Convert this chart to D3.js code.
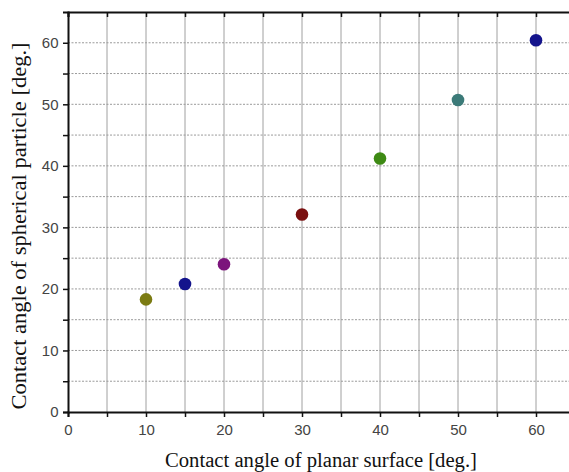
<!DOCTYPE html>
<html>
<head>
<meta charset="utf-8">
<script src="https://cdn.jsdelivr.net/npm/d3@7"></script>
<style>
  body { margin: 0; background: #fff; }
  svg { display: block; }
  .tick-label { font-family: "Liberation Sans", Arial, sans-serif; font-size: 15px; fill: #444; }
  .axis-title { font-family: "Liberation Serif", "Times New Roman", serif; font-size: 20px; fill: #111; }
</style>
</head>
<body>
<div id="chart"></div>
<script>
// data
const planarAngle = [10, 15, 20, 30, 40, 50, 60];
const particleAngle = [18.3, 20.8, 24.0, 32.1, 41.2, 50.7, 60.4];
const pointColors = ["#7b7b12", "#14148c", "#7c147c", "#7a1010", "#3e8a14", "#3b7a78", "#14148c"];
const xTicks = [0, 10, 20, 30, 40, 50, 60];
const yTicks = [0, 10, 20, 30, 40, 50, 60];
const minorStep = 5;

const width = 569, height = 472;
const margin = {top: 12, left: 68, bottom: 60};

const svg = d3.select("#chart").append("svg")
    .attr("width", width)
    .attr("height", height);

// x runs past the right edge, the frame is cut off like in the picture
let xScale = d3.scaleLinear().domain([0, 65]).range([margin.left, margin.left + 65 * 7.8]);
let yScale = d3.scaleLinear().domain([0, 65]).range([height - margin.bottom, margin.top]);

let minorX = d3.range(0, 66, minorStep);
let minorY = d3.range(0, 66, minorStep);

// grid
let grid = svg.append("g");
grid.selectAll(".vgrid")
    .data(minorX.filter(d => d > 0))
    .enter()
    .append("line")
    .attr("x1", d => xScale(d)).attr("x2", d => xScale(d))
    .attr("y1", yScale(0)).attr("y2", yScale(65))
    .attr("stroke", "#a0a0a0")
    .attr("stroke-width", 1);

grid.selectAll(".hgrid")
    .data(minorY.filter(d => d > 0 && d < 65))
    .enter()
    .append("line")
    .attr("x1", xScale(0)).attr("x2", width)
    .attr("y1", d => yScale(d)).attr("y2", d => yScale(d))
    .attr("stroke", "#9a9a9a")
    .attr("stroke-width", 1)
    .attr("stroke-dasharray", "2,1.5");

// bottom axis
let xAxis = d3.axisBottom(xScale)
    .tickValues(minorX)
    .tickSize(5)
    .tickFormat(d => xTicks.includes(d) ? d : "");
let gx = svg.append("g")
    .attr("transform", `translate(0, ${yScale(0)})`)
    .call(xAxis);
gx.select(".domain").attr("stroke", "#111").attr("stroke-width", 2);
gx.selectAll(".tick line").attr("stroke", "#111").attr("stroke-width", 1.5);
gx.selectAll(".tick text").attr("class", "tick-label").attr("dy", "1em");

// left axis
let yAxis = d3.axisLeft(yScale)
    .tickValues(minorY.filter(d => d < 65))
    .tickSize(5)
    .tickFormat(d => yTicks.includes(d) ? d : "");
let gy = svg.append("g")
    .attr("transform", `translate(${xScale(0)}, 0)`)
    .call(yAxis);
gy.select(".domain").attr("stroke", "#111").attr("stroke-width", 2);
gy.selectAll(".tick line").attr("stroke", "#111").attr("stroke-width", 1.5);
gy.selectAll(".tick text").attr("class", "tick-label").attr("dx", "-0.1em");

// top axis, ticks pointing inward
let topAxis = d3.axisTop(xScale)
    .tickValues(minorX)
    .tickSize(-5)
    .tickFormat("");
let gt = svg.append("g")
    .attr("transform", `translate(0, ${yScale(65)})`)
    .call(topAxis);
gt.select(".domain").attr("stroke", "#111").attr("stroke-width", 2);
gt.selectAll(".tick line").attr("stroke", "#111").attr("stroke-width", 1.5);

// points
svg.append("g")
    .selectAll("circle")
    .data(planarAngle)
    .enter()
    .append("circle")
    .attr("cx", d => xScale(d))
    .attr("cy", (d, i) => yScale(particleAngle[i]))
    .attr("r", 6.3)
    .attr("fill", (d, i) => pointColors[i]);

// titles
svg.append("text")
    .attr("class", "axis-title")
    .attr("x", 321)
    .attr("y", 467)
    .attr("text-anchor", "middle")
    .attr("textLength", 312)
    .attr("lengthAdjust", "spacingAndGlyphs")
    .text("Contact angle of planar surface [deg.]");

svg.append("text")
    .attr("class", "axis-title")
    .style("font-size", "21px")
    .attr("transform", `translate(26, 226) rotate(-90)`)
    .attr("text-anchor", "middle")
    .attr("textLength", 367)
    .attr("lengthAdjust", "spacingAndGlyphs")
    .text("Contact angle of spherical particle [deg.]");
</script>
</body>
</html>
